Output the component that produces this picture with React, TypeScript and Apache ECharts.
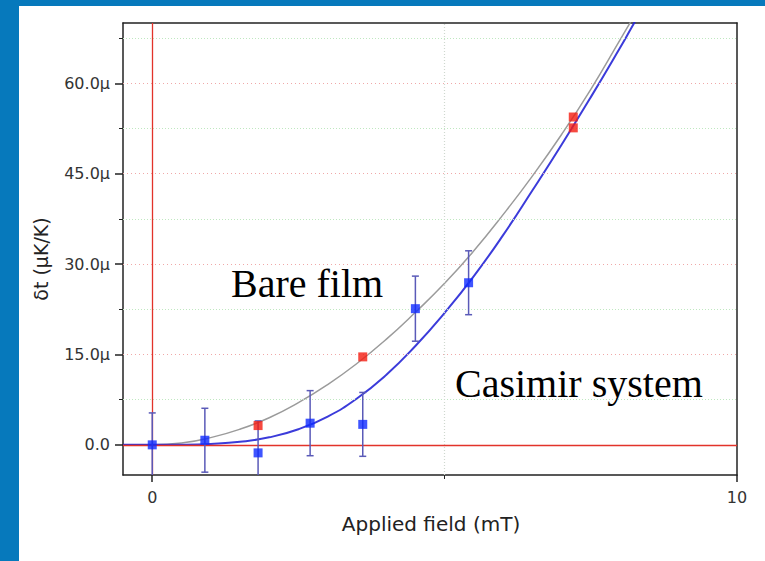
import React, { useEffect, useRef } from "react";
import * as echarts from "echarts";

// ---- data ----
const xTickValues = [0, 10];
const xMinorTicks = [5];
const yTickValues = [0, 15, 30, 45, 60];
const yMinorTicks = [7.5, 22.5, 37.5, 52.5, 67.5];

// Casimir system measurements (blue squares) with error bars
const fieldCasimir = [0, 0.9, 1.81, 2.7, 3.6, 4.5, 5.41];
const deltaCasimir = [0, 0.77, -1.33, 3.6, 3.4, 22.6, 26.9];
const errCasimir = [5.3, 5.3, 5.3, 5.4, 5.3, 5.4, 5.3];

// Bare film measurements (red squares)
const fieldBare = [1.81, 3.6, 7.2, 7.2];
const deltaBare = [3.2, 14.6, 54.4, 52.6];

// fitted curves
const fitField = [-0.5, 0, 0.5, 1, 1.5, 2, 2.5, 3, 3.5, 4, 4.5, 5, 5.5, 6, 6.5, 7, 7.5, 8, 8.2, 8.4];
const fitBare = [0, 0, 0.3, 1.2, 2.6, 4.5, 7.0, 10.0, 13.5, 17.5, 22.0, 26.8, 32.2, 38.2, 44.6, 51.5, 59.0, 67.2, 70.5, 73.8];
const fitCasimir = [0, 0, 0.02, 0.15, 0.5, 1.25, 2.6, 4.7, 7.7, 11.6, 16.4, 21.9, 28.0, 34.8, 42.2, 49.8, 57.7, 65.9, 69.3, 72.7];

const labelBare = "Bare film";
const labelCasimir = "Casimir system";
const xName = "Applied field (mT)";
const yName = "δt (μK/K)";

const AXIS = "#222";
const SANS = "DejaVu Sans";

export default function App() {
  const ref = useRef<HTMLDivElement>(null);

  useEffect(() => {
    if (!ref.current) return;
    const chart = echarts.init(ref.current, null, { renderer: "svg" });

    const xRange = { min: -0.5, max: 10 };
    const yRange = { min: -5, max: 70 };

    const option: any = {
      animation: false,
      backgroundColor: "#ffffff",
      grid: { left: 123, top: 23, width: 614, height: 452, containLabel: false },
      xAxis: [
        {
          type: "value", ...xRange, position: "bottom",
          axisLine: { show: true, onZero: false, lineStyle: { color: AXIS, width: 1.5 } },
          axisTick: { show: true, customValues: xTickValues, length: 7, lineStyle: { color: AXIS, width: 1.5 } },
          axisLabel: { show: true, customValues: xTickValues, margin: 14, fontSize: 16, fontFamily: SANS, color: "#333",
            formatter: (v: number) => String(v) },
          splitLine: { show: false },
        },
        {
          type: "value", ...xRange, position: "top",
          axisLine: { show: true, onZero: false, lineStyle: { color: AXIS, width: 1.5 } },
          axisTick: { show: false }, axisLabel: { show: false }, splitLine: { show: false },
        },
        {
          type: "value", ...xRange, position: "bottom",
          axisLine: { show: false, onZero: false },
          axisTick: { show: true, customValues: xMinorTicks, length: 4, lineStyle: { color: AXIS, width: 1 } },
          axisLabel: { show: false }, splitLine: { show: false },
        },
      ],
      yAxis: [
        {
          type: "value", ...yRange, position: "left",
          axisLine: { show: true, onZero: false, lineStyle: { color: AXIS, width: 1.5 } },
          axisTick: { show: true, customValues: yTickValues, length: 8, lineStyle: { color: AXIS, width: 1.5 } },
          axisLabel: { show: true, customValues: yTickValues, margin: 13, fontSize: 16, fontFamily: SANS, color: "#333",
            formatter: (v: number) => (v === 0 ? "0.0" : v.toFixed(1) + "μ") },
          splitLine: { show: false },
        },
        {
          type: "value", ...yRange, position: "right",
          axisLine: { show: true, onZero: false, lineStyle: { color: AXIS, width: 1.5 } },
          axisTick: { show: false }, axisLabel: { show: false }, splitLine: { show: false },
        },
        {
          type: "value", ...yRange, position: "left",
          axisLine: { show: false, onZero: false },
          axisTick: { show: true, customValues: yMinorTicks, length: 4, lineStyle: { color: AXIS, width: 1 } },
          axisLabel: { show: false }, splitLine: { show: false },
        },
      ],
      graphic: [
        { type: "rect", shape: { x: 0, y: 0, width: 765, height: 6 }, style: { fill: "#0679bc" }, z: 100 },
        { type: "rect", shape: { x: 0, y: 0, width: 19, height: 561 }, style: { fill: "#0679bc" }, z: 100 },
        { type: "text", x: 431, y: 524, style: { text: xName, fontSize: 20, fontFamily: SANS, fill: "#222", align: "center", verticalAlign: "middle" } },
        { type: "text", x: 41, y: 259, rotation: Math.PI / 2, style: { text: yName, fontSize: 19, fontFamily: SANS, fill: "#222", align: "center", verticalAlign: "middle" } },
        { type: "text", x: 231, y: 283, style: { text: labelBare, fontSize: 40, fontFamily: "Liberation Serif", fill: "#000", align: "left", verticalAlign: "middle" } },
        { type: "text", x: 455, y: 383, style: { text: labelCasimir, fontSize: 40, fontFamily: "Liberation Serif", fill: "#000", align: "left", verticalAlign: "middle" } },
      ],
      series: [
        {
          name: "grid", type: "line", data: [], z: 1, silent: true,
          markLine: {
            silent: true, symbol: "none", label: { show: false }, animation: false,
            data: [
              ...yTickValues.filter((v) => v !== 0).map((v) => ({ yAxis: v, lineStyle: { color: "#f0a8a8", type: [1, 3], width: 1.2 } })),
              ...yMinorTicks.map((v) => ({ yAxis: v, lineStyle: { color: "#bfe8c0", type: [1, 2], width: 1.2 } })),
              ...xMinorTicks.map((v) => ({ xAxis: v, lineStyle: { color: "#cfd8cf", type: [1, 2], width: 1.2 } })),
            ],
          },
        },
        {
          name: "zero", type: "line", data: [], z: 2, silent: true,
          markLine: {
            silent: true, symbol: "none", label: { show: false }, animation: false,
            data: [
              { yAxis: 0, lineStyle: { color: "#e2332a", type: "solid", width: 1.3 } },
              { xAxis: 0, lineStyle: { color: "#e2332a", type: "solid", width: 1.3 } },
            ],
          },
        },
        {
          name: "Bare film fit", type: "line", z: 3, smooth: true, showSymbol: false, symbol: "none",
          data: fitField.map((x, i) => [x, fitBare[i]]),
          lineStyle: { color: "#9b9b9b", width: 1.5 },
        },
        {
          name: "Casimir fit", type: "line", z: 4, smooth: true, showSymbol: false, symbol: "none",
          data: fitField.map((x, i) => [x, fitCasimir[i]]),
          lineStyle: { color: "#2626d6", width: 2, opacity: 0.9 },
        },
        {
          name: "errors", type: "custom", z: 5, clip: true,
          data: fieldCasimir.map((x, i) => [x, deltaCasimir[i], errCasimir[i]]),
          encode: { x: 0, y: 1 },
          renderItem: (params: any, api: any) => {
            const x = api.value(0), y = api.value(1), e = api.value(2);
            const top = api.coord([x, y + e]);
            const bot = api.coord([x, y - e]);
            const c = 3.5;
            const st = { stroke: "#5a5ab8", lineWidth: 1.5 };
            return {
              type: "group",
              children: [
                { type: "line", shape: { x1: top[0], y1: top[1], x2: bot[0], y2: bot[1] }, style: st },
                { type: "line", shape: { x1: top[0] - c, y1: top[1], x2: top[0] + c, y2: top[1] }, style: st },
                { type: "line", shape: { x1: bot[0] - c, y1: bot[1], x2: bot[0] + c, y2: bot[1] }, style: st },
              ],
            };
          },
        },
        {
          name: "Bare film", type: "scatter", z: 6, symbol: "rect", symbolSize: 9,
          data: fieldBare.map((x, i) => [x, deltaBare[i]]),
          itemStyle: { color: "#f41c10" },
        },
        {
          name: "Casimir system", type: "scatter", z: 7, symbol: "rect", symbolSize: 9,
          data: fieldCasimir.map((x, i) => [x, deltaCasimir[i]]),
          itemStyle: { color: "#0f2bff" },
        },
      ],
    };

    chart.setOption(option);
    return () => chart.dispose();
  }, []);

  return (
    <div
      ref={ref}
      style={{ position: "fixed", left: 0, top: 0, width: 765, height: 561, background: "#fff" }}
    />
  );
}
